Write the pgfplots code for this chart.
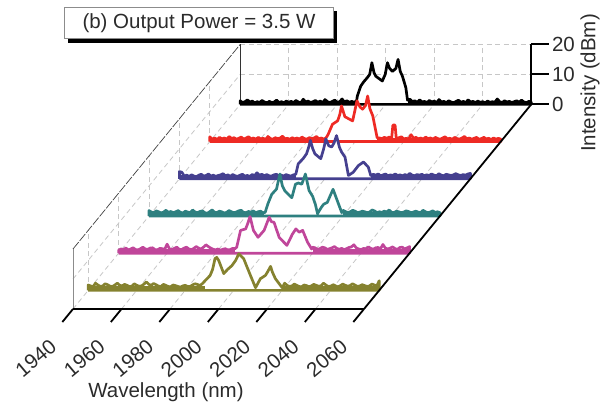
\documentclass[border=0pt]{standalone}
\usepackage{fontspec}
\setmainfont{Liberation Sans}
\usepackage{pgfplots}
\pgfplotsset{compat=1.18}
\definecolor{tred}{HTML}{EE2A24}
\definecolor{tblue}{HTML}{45408F}
\definecolor{tteal}{HTML}{2E8080}
\definecolor{tmag}{HTML}{C0469A}
\definecolor{toli}{HTML}{85822F}
\definecolor{txt}{HTML}{2B2B2B}
\newcommand{\lab}{\fontsize{20.5}{24}\selectfont}
\pgfplotsset{gr/.style={draw=black!22,dash pattern=on 5pt off 3.5pt,line width=0.8pt,no marks},
 trc/.style={draw=#1,fill=white,line width=2.7pt,line join=round,no marks},
 bas/.style={draw=#1,line width=4pt,no marks},
 /pgfplots/table/tb/.style={row sep=\\,header=false,x index=0,z index=1,y expr=#1}}
\begin{document}
\begin{tikzpicture}
\begin{axis}[hide axis,clip=false,xmin=1940,xmax=2060,ymin=-0.5,ymax=5,zmin=0,zmax=20,
 x={(2.425pt,0pt)},y={(30.4pt,37.2pt)},z={(0pt,3pt)}]
% floor and walls
\pgfplotsinvokeforeach{1940,1960,1980,2000,2020,2040,2060}{
 \addplot3[gr] coordinates {(#1,-0.5,0)(#1,5,0)};
 \addplot3[gr] coordinates {(#1,5,0)(#1,5,20)};
}
\addplot3[gr] coordinates {(1940,5,10)(2060,5,10)};
\addplot3[gr] coordinates {(1940,5,20)(2060,5,20)};
\addplot3[gr] coordinates {(1940,-0.5,10)(1940,5,10)};
\pgfplotsinvokeforeach{0,1,2,3,4}{
 \addplot3[gr] coordinates {(1940,#1,0)(1940,#1,20)};
}
\addplot3[draw=black!75,line width=0.7pt,dash pattern=on 9pt off 1.5pt,no marks] coordinates {(1940,-0.5,20)(1940,5,20)};
\addplot3[draw=black!45,line width=0.9pt,no marks] coordinates {(1940,-0.5,0)(1940,-0.5,20)};
\addplot3[draw=black!80,line width=0.8pt,no marks] coordinates {(1940,5,0)(1940,5,20)};
% traces, back to front
\addplot3[trc=black] table[tb=5] {1940 0\\1940 1.2\\1941 .6\\1942 .9\\1943 1.5\\1944 .7\\1945 1.1\\1946 .5\\1947 .9\\1948 .6\\1949 1.3\\1950 .8\\1951 .5\\1952 1\\1953 .6\\1954 .8\\1955 1.4\\1956 .6\\1957 .9\\1958 .5\\1959 1.1\\1960 .7\\1961 1\\1962 .6\\1963 1.3\\1964 .8\\1965 .5\\1966 1.7\\1967 .8\\1968 1.1\\1969 .6\\1970 .9\\1971 1.3\\1972 .7\\1973 1.1\\1974 .6\\1975 1.6\\1976 .9\\1977 .6\\1978 1\\1979 1.4\\1980 .7\\1981 .9\\1982 1.8\\1983 .8\\1984 1.2\\1985 .7\\1986 1\\1987 .7\\1988 1.2\\1988.3 2.8\\1989.7 6.1\\1991 7.6\\1992.4 8.9\\1993.4 10\\1994.3 13.9\\1995.2 10.5\\1995.9 9.4\\1998.6 7.8\\1999.8 10\\2000.7 13.9\\2001.6 12\\2002.8 11\\2004.2 12\\2005.1 15\\2006 11\\2006.9 9.4\\2008.3 5.6\\2009 1.4\\2010 1.7\\2011 .9\\2012 1.2\\2013 .7\\2014 1.5\\2015 .8\\2016 1\\2017 .6\\2018 1.3\\2019 .8\\2020 1.1\\2021 .6\\2022 1.6\\2023 .8\\2024 1\\2025 .6\\2026 1.2\\2027 .8\\2028 .5\\2029 1\\2030 1.4\\2031 .7\\2032 1\\2033 .6\\2034 1.5\\2035 .8\\2036 1\\2037 .6\\2038 1.1\\2039 .7\\2040 .9\\2041 .5\\2042 1.1\\2043 .7\\2044 .9\\2045 .7\\2046 1.8\\2047 .9\\2048 .6\\2049 1.2\\2050 .8\\2051 1\\2052 .6\\2053 .9\\2054 1.2\\2055 .7\\2056 1.4\\2057 .8\\2058 .6\\2059 1\\2060 .8\\2060 0\\1940 0\\};
\addplot3[bas=black] coordinates {(1940,5,.4)(1988,5,.4)};
\addplot3[bas=black] coordinates {(2009,5,.4)(2060,5,.4)};
\addplot3[trc=tred] table[tb=4] {1940 0\\1940 1.6\\1941 .8\\1942 1.2\\1943 .7\\1944 1.4\\1945 .9\\1946 1.2\\1947 .8\\1948 1.7\\1949 1\\1950 1.3\\1951 .8\\1952 1.1\\1953 1.5\\1954 .8\\1955 1.2\\1956 1.6\\1957 .9\\1958 1.2\\1959 .8\\1960 1.4\\1961 .9\\1962 1.1\\1963 .7\\1964 1.7\\1965 1\\1966 .8\\1967 1.3\\1968 1\\1969 1.2\\1970 1.8\\1971 .9\\1972 1.1\\1973 .8\\1974 1.3\\1975 .9\\1976 1.2\\1977 .8\\1978 1.5\\1979 1\\1980 .8\\1981 1.3\\1982 1\\1983 1.2\\1984 1.7\\1985 .9\\1986 1.2\\1987 .8\\1988 1.3\\1988.8 2.4\\1990.6 5.8\\1992.7 6.9\\1993.6 9\\1994.3 11.9\\1995.7 8.3\\1998.9 6.9\\2000 11\\2000.7 13.6\\2002 11.5\\2003 10.8\\2004.2 12\\2005.1 15.2\\2006 11\\2007.2 8.6\\2009 1.3\\2010 1.2\\2011 1\\2012 1.4\\2013 1.1\\2014 1.5\\2015 1.2\\2015.5 5.5\\2016.4 5.5\\2016.9 1\\2018 1.3\\2019 1.6\\2020 .9\\2021 1.1\\2022 .8\\2023 2.3\\2024 1.1\\2025 1.4\\2026 .9\\2027 1.2\\2028 .8\\2029 1.5\\2030 1\\2031 1.2\\2032 .8\\2033 1.4\\2034 1\\2035 .8\\2036 1.2\\2037 1.6\\2038 .9\\2039 1.1\\2040 .8\\2041 1.4\\2042 1\\2043 .8\\2044 1.2\\2045 1.7\\2046 .9\\2047 1.2\\2048 .8\\2049 1.1\\2050 1.4\\2051 .8\\2052 1\\2053 1.4\\2054 .9\\2055 1.1\\2056 .7\\2057 1.2\\2058 .8\\2059 1.1\\2060 .8\\2060 0\\1940 0\\};
\addplot3[bas=tred] coordinates {(1940,4,.5)(1988,4,.5)};
\addplot3[bas=tred] coordinates {(2009,4,.5)(2060,4,.5)};
\addplot3[trc=tblue] table[tb=3] {1940 0\\1940 2.4\\1941 2.2\\1942 .9\\1943 1.2\\1944 .8\\1945 1.3\\1946 .9\\1947 .7\\1948 1.2\\1949 1.5\\1950 .9\\1951 1.1\\1952 1.6\\1953 .9\\1954 1.2\\1955 .8\\1956 1.1\\1957 1.3\\1958 1.7\\1959 1\\1960 1.3\\1961 .8\\1962 1.4\\1963 1\\1964 .8\\1965 1.2\\1966 1.5\\1967 .9\\1968 1.1\\1969 .8\\1970 1.4\\1971 1.1\\1972 2\\1973 1.2\\1974 1.5\\1975 1\\1976 1.4\\1977 1\\1978 .9\\1979 1.3\\1980 1.5\\1981 1\\1982 1.2\\1983 .9\\1984 1.4\\1985 1.1\\1986 .9\\1987 1.3\\1988 1.5\\1989 5\\1991 6.7\\1992.4 8.3\\1993.3 10.5\\1994 12.8\\1995 10\\1995.9 8.3\\1998.3 6.7\\1999.5 10\\2000.4 13.3\\2001.6 11\\2002.8 10.6\\2003.8 12\\2004.8 14.4\\2006 10.5\\2006.9 8.9\\2008.3 7.2\\2009.7 1.1\\2011.7 2.2\\2013.8 4.4\\2015.9 5.6\\2017.9 3.9\\2018.9 1.1\\2020 1.5\\2021 1.2\\2022 1.6\\2023 1\\2024 1.3\\2025 1.6\\2026 1\\2027 1.3\\2028 1.1\\2029 1.6\\2030 1.1\\2031 1.3\\2032 1\\2033 1.4\\2034 1.1\\2035 1.8\\2036 1.2\\2037 1\\2038 1.4\\2039 1.2\\2040 1.5\\2041 1\\2042 1.3\\2043 1.1\\2044 1.6\\2045 1.2\\2046 1\\2047 1.7\\2048 1.2\\2049 1\\2050 1.5\\2051 1.3\\2052 1.1\\2053 1.3\\2054 1.7\\2055 1.3\\2056 1.1\\2057 1.4\\2058 1.2\\2059 1.6\\2060 1.8\\2060 0\\1940 0\\};
\addplot3[bas=tblue] coordinates {(1940,3,.5)(1988,3,.5)};
\addplot3[bas=tblue] coordinates {(2019,3,.6)(2060,3,.6)};
\addplot3[trc=tteal] table[tb=2] {1940 0\\1940 1.8\\1941 1.3\\1942 1.1\\1943 1.7\\1944 1.4\\1945 1\\1946 1.3\\1947 1.9\\1948 1.2\\1949 1.5\\1950 1.1\\1951 1.4\\1952 1.8\\1953 1.2\\1954 1\\1955 1.6\\1956 1.3\\1957 1.1\\1958 2\\1959 1.3\\1960 1.1\\1961 1.5\\1962 1.7\\1963 1.1\\1964 .9\\1965 1.4\\1966 2\\1967 1.3\\1968 1.1\\1969 1.6\\1970 1.4\\1971 1\\1972 1.2\\1973 1.8\\1974 1.4\\1975 1.1\\1976 1.3\\1977 1.7\\1978 1.9\\1979 1.2\\1980 1.1\\1981 1.5\\1982 1.3\\1983 1.7\\1984 1.1\\1985 1.4\\1986 1.6\\1987 1.1\\1987.9 1.2\\1989 4\\1990.6 7.2\\1992.6 9\\1993.4 12\\1994 14\\1995 10\\1996.1 8.3\\1998.9 6.1\\2000.4 10.6\\2001.6 11\\2003 10.6\\2004.5 14\\2006 8.5\\2007.5 6.5\\2008.6 3.9\\2009.5 .8\\2011 2.8\\2012 3.9\\2013.5 4.5\\2015.9 8.9\\2018.2 3.9\\2019.5 1.1\\2020 1.9\\2021 1.5\\2022 1.1\\2023 1.4\\2024 1.9\\2025 1.6\\2026 1.1\\2027 1.3\\2028 1.6\\2029 1.4\\2030 1.1\\2031 1.3\\2032 2\\2033 1.7\\2034 1.1\\2035 1.4\\2036 1.2\\2037 1.6\\2038 1.3\\2039 2\\2040 1.2\\2041 1.1\\2042 1.6\\2043 1.4\\2044 1.1\\2045 1.3\\2046 1.7\\2047 1.5\\2048 1.1\\2049 1.3\\2050 1.6\\2051 1.3\\2052 1.1\\2053 1.9\\2054 1.4\\2055 1.1\\2056 1.3\\2057 1.7\\2058 1.2\\2059 1.4\\2060 1.1\\2060 0\\1940 0\\};
\addplot3[bas=tteal] coordinates {(1940,2,.6)(1987.5,2,.6)};
\addplot3[bas=tteal] coordinates {(2020,2,.6)(2060,2,.6)};
\addplot3[trc=tmag] table[tb=1] {1940 0\\1940 1\\1941 1.4\\1942 1.2\\1943 1.7\\1944 1.1\\1945 1.4\\1946 1.8\\1947 1.2\\1948 1.1\\1949 1.5\\1950 2\\1951 1.4\\1952 1.3\\1953 1.7\\1954 1.8\\1955 1.2\\1956 1.1\\1957 1.6\\1958 1.5\\1959 1.3\\1960 3\\1961 1.4\\1962 1.2\\1963 1.6\\1964 2\\1965 1.3\\1966 1.2\\1967 1.7\\1968 2\\1969 1.4\\1970 1.2\\1971 1.6\\1972 2.2\\1973 1.7\\1974 1.4\\1975 2\\1976 2.8\\1977 2.2\\1978 1.7\\1979 1.3\\1980 1.1\\1981 1.4\\1982 1\\1983 1.3\\1984 1.5\\1985 1.1\\1986 1.2\\1987 1.6\\1988 1.5\\1988.7 2\\1990.3 7.6\\1992.4 8.1\\1993.3 10\\1994.2 12.2\\1995.6 7.6\\1997.5 5.3\\2000 7.6\\2002.1 12\\2003 10.5\\2004.1 10.3\\2006.2 5.3\\2009.4 2.6\\2011.7 6.4\\2013.1 8.1\\2014.5 7\\2015.9 7.6\\2017.9 3.7\\2019.6 1.4\\2020 2\\2021 1.8\\2022 1.3\\2023 1.5\\2024 2\\2025 1.8\\2026 1.3\\2027 1.5\\2028 1.8\\2029 2.2\\2030 1.6\\2031 1.3\\2032 1.6\\2033 1.2\\2034 1.5\\2035 1.9\\2036 2.1\\2037 2.8\\2038 1.8\\2039 1.4\\2040 1.2\\2041 1.6\\2042 1.4\\2043 2.1\\2044 1.6\\2045 1.3\\2046 1.8\\2047 1.9\\2048 1.5\\2049 2.9\\2050 1.7\\2051 1.4\\2052 1.7\\2053 2.1\\2054 1.5\\2055 1.3\\2056 1.9\\2057 2\\2058 1.4\\2059 1.8\\2060 2.2\\2060 0\\1940 0\\};
\addplot3[bas=tmag] coordinates {(1940,1,.6)(1988,1,.6)};
\addplot3[bas=tmag] coordinates {(2020,1,.6)(2060,1,.6)};
\addplot3[trc=toli] table[tb=0] {1940 0\\1940 1.8\\1941 1.5\\1942 1.2\\1943 2.4\\1944 1.8\\1945 1.3\\1946 1.5\\1947 2.2\\1948 1.9\\1949 1.4\\1950 1.3\\1951 1.8\\1952 2.4\\1953 1.7\\1954 1.5\\1955 2\\1956 1.7\\1957 1.3\\1958 1.4\\1959 2.2\\1960 1.7\\1961 1.4\\1962 1.5\\1963 2.1\\1964 2.8\\1965 2\\1966 1.7\\1967 2.3\\1968 1.9\\1969 1.4\\1970 1.3\\1971 2\\1972 1.7\\1973 1.3\\1974 1.2\\1975 1.8\\1976 1.6\\1977 1.3\\1978 1.1\\1979 1.5\\1980 1.7\\1981 1.3\\1982 1.3\\1983 1.8\\1984 2.2\\1985 2\\1986 1.6\\1987 2.2\\1988.3 3.3\\1990.3 5\\1991.3 7\\1992.3 10.6\\1993 11\\1993.8 10\\1995.9 5.6\\1997.5 7\\1999.3 8.3\\2000.8 10\\2002.1 12.2\\2003 11.5\\2004.1 10.6\\2006.9 5\\2009 .9\\2011 3.9\\2013.1 5\\2014.2 6.5\\2015.2 8\\2016 6\\2017.2 3.9\\2020 .9\\2021 2.4\\2022 1.7\\2023 1.3\\2024 1.5\\2025 2.1\\2026 1.7\\2027 1.3\\2028 1.2\\2029 1.8\\2030 1.6\\2031 1.2\\2032 1.5\\2033 2\\2034 1.7\\2035 1.4\\2036 1.5\\2037 2.4\\2038 1.8\\2039 1.3\\2040 1.4\\2041 1.9\\2042 1.5\\2043 1.2\\2044 1.6\\2045 2.1\\2046 1.7\\2047 1.4\\2048 1.6\\2049 2.2\\2050 1.8\\2051 1.3\\2052 1.5\\2053 1.9\\2054 1.6\\2055 1.3\\2056 1.5\\2057 2.1\\2058 1.8\\2059 1.5\\2060 3.2\\2060 0\\1940 0\\};
\addplot3[bas=toli] coordinates {(1940,0,.7)(1988,0,.7)};
\addplot3[bas=toli] coordinates {(2020.5,0,.7)(2060,0,.7)};
% axes
\addplot3[draw=black,line width=1.8pt,no marks] coordinates {(1940,-0.5,0)(2060,-0.5,0)};
\addplot3[draw=black,line width=1.8pt,no marks] coordinates {(2060,-0.5,0)(2060,5,0)};
\addplot3[draw=black,line width=1.8pt,no marks] coordinates {(2060,5,0)(2060,5,20)};
\pgfplotsinvokeforeach{1940,1960,1980,2000,2020,2040,2060}{
 \addplot3[draw=black,line width=1.8pt,no marks] coordinates {(#1,-0.5,0)(#1,-0.85,0)};
}
\pgfplotsinvokeforeach{0,10,20}{
 \addplot3[draw=black,line width=1.8pt,no marks] coordinates {(2060,5,#1)(2067.4,5,#1)};
}
\node[rotate=40,text=txt,font=\lab] at (axis cs:1924.7,-0.5,-16.33) {1940};
\node[rotate=40,text=txt,font=\lab] at (axis cs:1944.7,-0.5,-16.33) {1960};
\node[rotate=40,text=txt,font=\lab] at (axis cs:1964.7,-0.5,-16.33) {1980};
\node[rotate=40,text=txt,font=\lab] at (axis cs:1984.7,-0.5,-16.33) {2000};
\node[rotate=40,text=txt,font=\lab] at (axis cs:2004.7,-0.5,-16.33) {2020};
\node[rotate=40,text=txt,font=\lab] at (axis cs:2024.7,-0.5,-16.33) {2040};
\node[rotate=40,text=txt,font=\lab] at (axis cs:2044.7,-0.5,-16.33) {2060};
\node[anchor=west,inner sep=0pt,text=txt,font=\lab] at (axis cs:2068.5,5,0) {0};
\node[anchor=west,inner sep=0pt,text=txt,font=\lab] at (axis cs:2068.5,5,10) {10};
\node[anchor=west,inner sep=0pt,text=txt,font=\lab] at (axis cs:2068.5,5,20) {20};
\coordinate (p) at (axis cs:1940,-0.5,-34.67);
\end{axis}
\pgfresetboundingbox
\path (p) ++(-73pt,0pt) coordinate (bl);
\path[use as bounding box] (bl) rectangle ++(604pt,413pt);
\begin{scope}[shift={(bl)},x=1pt,y=1pt]
\fill[black] (68,413-43) rectangle (337,413-11);
\draw[draw=black!45,fill=white,line width=0.7pt] (64,413-7) rectangle (333,413-38);
\node[text=txt,font=\lab] at (199,413-23) {(b) Output Power = 3.5 W};
\node[text=txt,font=\lab] at (166,413-392) {Wavelength (nm)};
\node[rotate=90,text=txt,font=\lab] at (590,413-83) {Intensity (dBm)};
\end{scope}
\end{tikzpicture}
\end{document}
